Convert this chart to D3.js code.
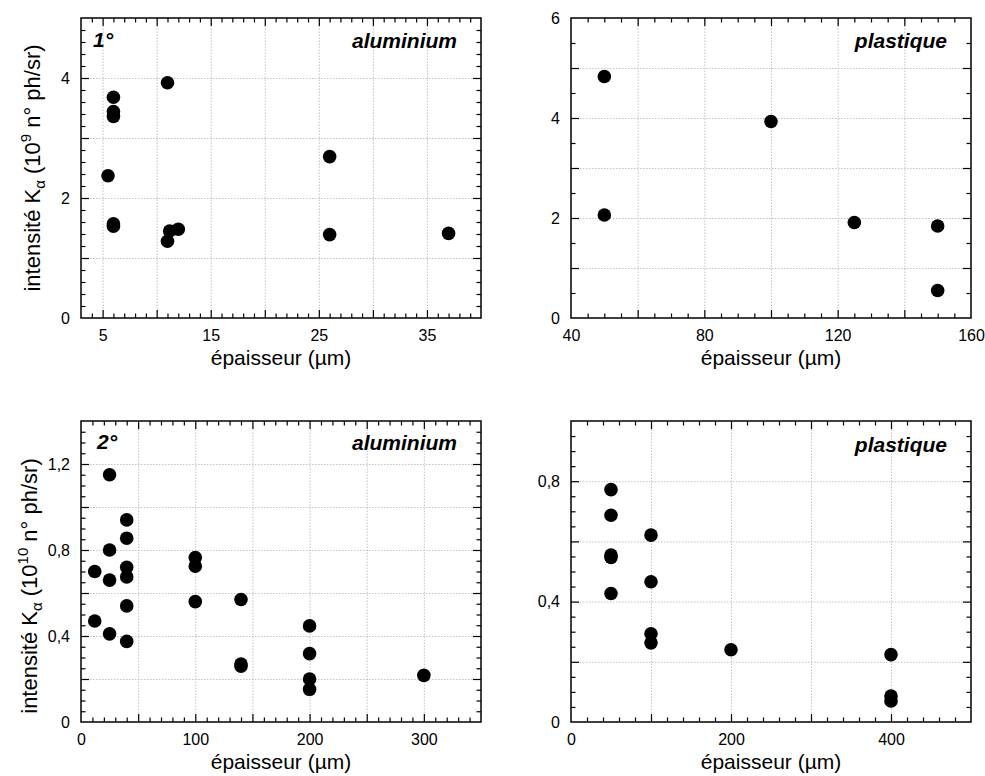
<!DOCTYPE html>
<html><head><meta charset="utf-8">
<script src="https://cdn.jsdelivr.net/npm/d3@7"></script>
<style>
body{margin:0;background:#fff}
svg{display:block}
text{font-family:"Liberation Sans",Arial,sans-serif;fill:#000}
</style>
</head><body>
<svg id="c" width="985" height="776"></svg>
<script>
// ---------- data ----------
// 1° – aluminium
const alu1Thickness = [6, 6, 6, 5.5, 6, 6, 11, 11, 11.2, 12, 26, 26, 37];
const alu1Intensity = [3.68, 3.44, 3.36, 2.37, 1.57, 1.53, 3.92, 1.28, 1.45, 1.48, 2.69, 1.39, 1.41];
// 1° – plastique
const pla1Thickness = [50, 50, 100, 125, 150, 150];
const pla1Intensity = [4.83, 2.06, 3.93, 1.91, 1.84, 0.55];
// 2° – aluminium
const alu2Thickness = [12, 12, 25, 25, 25, 25, 40, 40, 40, 40, 40, 40, 100, 100, 100, 140, 140, 140, 200, 200, 200, 200, 300];
const alu2Intensity = [0.70, 0.47, 1.15, 0.80, 0.66, 0.41, 0.94, 0.855, 0.72, 0.675, 0.54, 0.375, 0.765, 0.725, 0.56, 0.57, 0.27, 0.26, 0.447, 0.318, 0.20, 0.152, 0.217];
// 2° – plastique
const pla2Thickness = [50, 50, 50, 50, 50, 100, 100, 100, 100, 200, 400, 400, 400];
const pla2Intensity = [0.772, 0.687, 0.555, 0.547, 0.427, 0.621, 0.466, 0.293, 0.263, 0.240, 0.224, 0.086, 0.070];

// tick labels
const tlXTicks = [5, 15, 25, 35];
const tlYTicks = [0, 2, 4];
const trXTicks = [40, 80, 120, 160];
const trYTicks = [0, 2, 4, 6];
const blXTicks = [0, 100, 200, 300];
const blYTicks = [0, 0.4, 0.8, 1.2];
const brXTicks = [0, 200, 400];
const brYTicks = [0, 0.4, 0.8];

const xTitle = "épaisseur (µm)";
const materialAlu = "aluminium";
const materialPla = "plastique";

// ---------- drawing ----------
const svg = d3.select("#c");
const comma = d => String(+d.toFixed(3)).replace(".", ",");

function steps(d0, d1, step) {
  const a = Math.ceil(d0 / step - 1e-9), b = Math.floor(d1 / step + 1e-9);
  return d3.range(a, b + 1).map(i => +(i * step).toFixed(6));
}

function panel(c) {
  const g = svg.append("g").attr("transform", `translate(${c.left},${c.top})`);
  const x = d3.scaleLinear().domain(c.xDomain).range([0, c.w]);
  const y = d3.scaleLinear().domain(c.yDomain).range([c.h, 0]);

  const inside = (v, d) => v > d[0] + 1e-9 && v < d[1] - 1e-9;
  const xMajor = steps(c.xDomain[0], c.xDomain[1], c.xGrid).filter(v => inside(v, c.xDomain));
  const yMajor = steps(c.yDomain[0], c.yDomain[1], c.yGrid).filter(v => inside(v, c.yDomain));
  const isMult = (v, s) => Math.abs(v / s - Math.round(v / s)) < 1e-6;
  const xMinor = steps(c.xDomain[0], c.xDomain[1], c.xMinor).filter(v => inside(v, c.xDomain) && !isMult(v, c.xGrid));
  const yMinor = steps(c.yDomain[0], c.yDomain[1], c.yMinor).filter(v => inside(v, c.yDomain) && !isMult(v, c.yGrid));

  // grid
  const gx = g.append("g").attr("transform", `translate(0,${c.h})`)
    .call(d3.axisBottom(x).tickValues(xMajor).tickSize(-c.h).tickFormat(""));
  const gy = g.append("g")
    .call(d3.axisLeft(y).tickValues(yMajor).tickSize(-c.w).tickFormat(""));
  [gx, gy].forEach(s => {
    s.select(".domain").remove();
    s.selectAll("line").attr("stroke", "#b4b4b4").attr("stroke-width", 0.8).attr("stroke-dasharray", "1.5,1.5");
  });

  // inward ticks on four sides
  const add = (axis, tr) => {
    const s = g.append("g").attr("transform", tr).call(axis);
    s.select(".domain").remove();
    s.selectAll("line").attr("stroke", "#000").attr("stroke-width", 1.2);
  };
  add(d3.axisBottom(x).tickValues(xMajor).tickSize(-8).tickFormat(""), `translate(0,${c.h})`);
  add(d3.axisBottom(x).tickValues(xMinor).tickSize(-4.5).tickFormat(""), `translate(0,${c.h})`);
  add(d3.axisTop(x).tickValues(xMajor).tickSize(-8).tickFormat(""), `translate(0,0)`);
  add(d3.axisTop(x).tickValues(xMinor).tickSize(-4.5).tickFormat(""), `translate(0,0)`);
  add(d3.axisLeft(y).tickValues(yMajor).tickSize(-8).tickFormat(""), `translate(0,0)`);
  add(d3.axisLeft(y).tickValues(yMinor).tickSize(-4.5).tickFormat(""), `translate(0,0)`);
  add(d3.axisRight(y).tickValues(yMajor).tickSize(-8).tickFormat(""), `translate(${c.w},0)`);
  add(d3.axisRight(y).tickValues(yMinor).tickSize(-4.5).tickFormat(""), `translate(${c.w},0)`);

  // tick labels
  const lx = g.append("g").attr("transform", `translate(0,${c.h})`)
    .call(d3.axisBottom(x).tickValues(c.xTicks).tickSize(0).tickPadding(12).tickFormat(comma));
  const ly = g.append("g")
    .call(d3.axisLeft(y).tickValues(c.yTicks).tickSize(0).tickPadding(11).tickFormat(comma));
  [lx, ly].forEach(s => {
    s.select(".domain").remove();
    s.selectAll("text").attr("font-size", 16).attr("font-family", '"Liberation Sans",Arial,sans-serif').attr("fill", "#000");
  });

  // frame
  g.append("rect").attr("width", c.w).attr("height", c.h)
    .attr("fill", "none").attr("stroke", "#000").attr("stroke-width", 1.5);

  // points
  g.append("g").selectAll("circle").data(c.xs.map((v, i) => [v, c.ys[i]])).join("circle")
    .attr("cx", d => x(d[0])).attr("cy", d => y(d[1])).attr("r", 6.8).attr("fill", "#000");

  // x title
  g.append("text").attr("x", c.w / 2).attr("y", c.h + 47).attr("text-anchor", "middle")
    .attr("font-size", 21).text(xTitle);

  // material label
  g.append("text").attr("x", c.w - 24).attr("y", c.matY).attr("text-anchor", "end")
    .attr("font-size", 21).attr("font-weight", "bold").attr("font-style", "italic").text(c.material);

  // order label
  if (c.order) {
    g.append("text").attr("x", c.orderX).attr("y", c.matY - 1)
      .attr("font-size", 21).attr("font-weight", "bold").attr("font-style", "italic").text(c.order);
  }

  // y title
  if (c.yExp) {
    const t = g.append("text").attr("text-anchor", "middle").attr("font-size", 22)
      .attr("transform", `translate(${c.yTitleX},${c.yTitleY}) rotate(-90)`);
    t.append("tspan").text("intensité K");
    t.append("tspan").attr("font-size", 15).attr("dy", 5).text("α");
    t.append("tspan").attr("dy", -5).text("  (10");
    t.append("tspan").attr("font-size", 15).attr("dy", -9).text(c.yExp);
    t.append("tspan").attr("dy", 9).text(" n° ph/sr)");
  }
}

panel({left: 81, top: 18, w: 400, h: 300, xDomain: [3, 40], yDomain: [0, 5],
  xGrid: 5, xMinor: 1, yGrid: 1, yMinor: 0.2, xTicks: tlXTicks, yTicks: tlYTicks,
  xs: alu1Thickness, ys: alu1Intensity, material: materialAlu, order: "1°", orderX: 12, matY: 30,
  yExp: "9", yTitleX: -41, yTitleY: 150});
panel({left: 571, top: 18, w: 400, h: 300, xDomain: [40, 160], yDomain: [0, 6],
  xGrid: 20, xMinor: 5, yGrid: 1, yMinor: 0.5, xTicks: trXTicks, yTicks: trYTicks,
  xs: pla1Thickness, ys: pla1Intensity, material: materialPla, matY: 30});
panel({left: 81, top: 421, w: 400, h: 301, xDomain: [0, 350], yDomain: [0, 1.4],
  xGrid: 50, xMinor: 10, yGrid: 0.2, yMinor: 0.05, xTicks: blXTicks, yTicks: blYTicks,
  xs: alu2Thickness, ys: alu2Intensity, material: materialAlu, order: "2°", orderX: 16, matY: 29,
  yExp: "10", yTitleX: -44, yTitleY: 165});
panel({left: 571, top: 421, w: 400, h: 301, xDomain: [0, 500], yDomain: [0, 1],
  xGrid: 100, xMinor: 20, yGrid: 0.2, yMinor: 0.05, xTicks: brXTicks, yTicks: brYTicks,
  xs: pla2Thickness, ys: pla2Intensity, material: materialPla, matY: 31});
</script>
</body></html>
